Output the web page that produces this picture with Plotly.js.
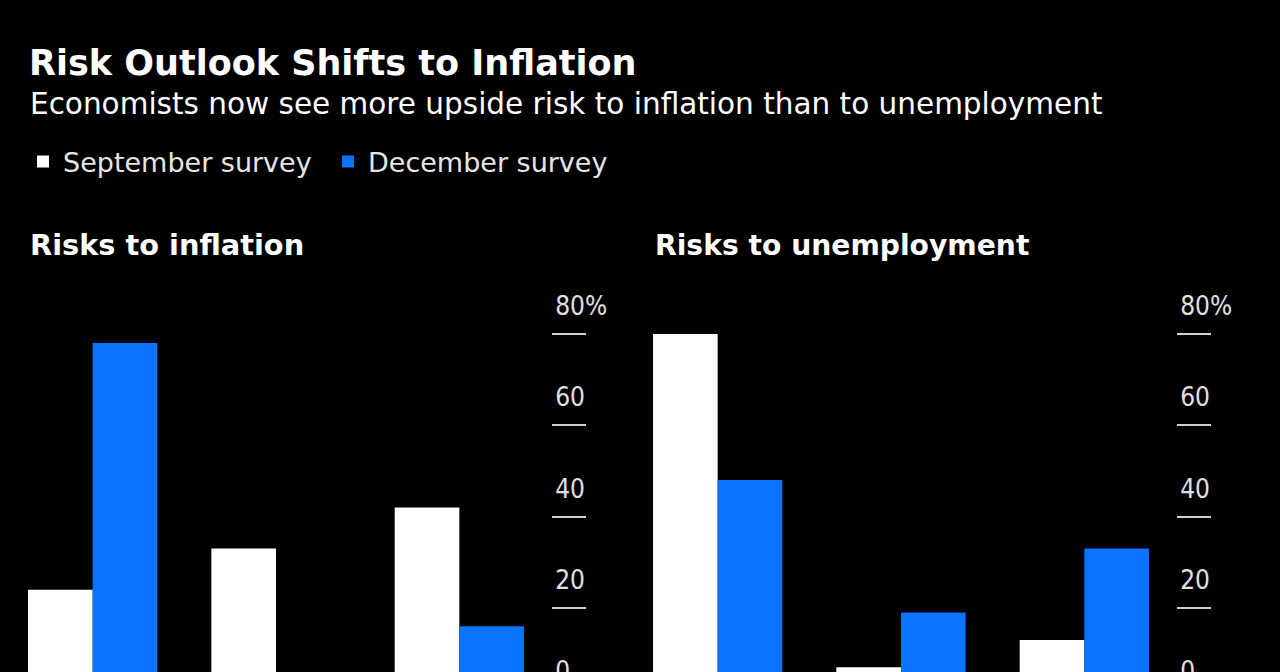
<!DOCTYPE html>
<html>
<head>
<meta charset="utf-8">
<script src="https://cdn.plot.ly/plotly-3.0.1.min.js"></script>
<style>
html,body{margin:0;padding:0;background:#000;overflow:hidden;}
#chart{width:1280px;height:760px;}
</style>
</head>
<body>
<div id="chart"></div>
<script>
// Data
const categories = ["Upside", "Balanced", "Downside"];
const inflationSeptember = [24, 33, 42];
const inflationDecember = [78, 6, 16];
const unemploymentSeptember = [80, 7, 13];
const unemploymentDecember = [48, 19, 33];
const tickValues = [0, 20, 40, 60, 80];
const tickLabels = ["0", "20", "40", "60", "80%"];
const seriesNames = ["September survey", "December survey"];

const WHITE = "#ffffff";
const BLUE = "#0a74ff";
const FONT = "DejaVu Sans, sans-serif";
const FONT_C = "DejaVu Sans Condensed, DejaVu Sans, sans-serif";

const traces = [
  {type:"bar", x:categories, y:inflationSeptember, name:seriesNames[0], marker:{color:WHITE}, xaxis:"x", yaxis:"y", legendgroup:"s"},
  {type:"bar", x:categories, y:inflationDecember, name:seriesNames[1], marker:{color:BLUE}, xaxis:"x", yaxis:"y", legendgroup:"d"},
  {type:"bar", x:categories, y:unemploymentSeptember, name:seriesNames[0], marker:{color:WHITE}, xaxis:"x2", yaxis:"y2", showlegend:false, legendgroup:"s"},
  {type:"bar", x:categories, y:unemploymentDecember, name:seriesNames[1], marker:{color:BLUE}, xaxis:"x2", yaxis:"y2", showlegend:false, legendgroup:"d"}
];

const H = 760;
const yDomain = [(H-699.3)/H, (H-315.7)/H];

function yAxis(anchor){
  return {
    anchor: anchor, side:"right", domain:yDomain, range:[0,84],
    tickvals: tickValues, ticktext: tickLabels,
    showgrid:false, zeroline:false, showline:false,
    ticks:"outside", ticklen:34, tickwidth:2, tickcolor:"#cfcfcf",
    ticklabelstandoff:-36, ticklabelshift:-28,
    tickfont:{family:FONT_C, size:26, color:"#e0e0e0"},
    fixedrange:true
  };
}
function xAxis(domain, anchor){
  return {
    anchor: anchor, domain: domain, showgrid:false, zeroline:false, showline:false,
    ticks:"", showticklabels:false, fixedrange:true
  };
}

const layout = {
  width:1280, height:H,
  margin:{l:0, r:0, t:0, b:0},
  paper_bgcolor:"#000", plot_bgcolor:"#000",
  barmode:"group", bargap:0.295, bargroupgap:0,
  font:{family:FONT, color:"#ffffff"},
  title:{text:"<b>Risk Outlook Shifts to Inflation</b>", x:29/1280, xanchor:"left", y:1-63/H, yanchor:"middle", font:{family:FONT, size:35, color:"#ffffff"}},
  xaxis: xAxis([1/1280, 551/1280], "y"),
  yaxis: yAxis("x"),
  xaxis2: xAxis([626/1280, 1176/1280], "y2"),
  yaxis2: yAxis("x2"),
  showlegend:true,
  legend:{orientation:"h", x:23/1280, xanchor:"left", y:1-162/H, yanchor:"middle", entrywidth:260, entrywidthmode:"pixels",
    font:{family:FONT, size:27, color:"#e6e6e6"}, bgcolor:"rgba(0,0,0,0)", traceorder:"normal", itemclick:false, itemdoubleclick:false},
  annotations:[
    {text:"Economists now see more upside risk to inflation than to unemployment", xref:"paper", yref:"paper", x:28/1280, y:1-104/H, xanchor:"left", yanchor:"middle", showarrow:false, font:{family:FONT, size:29.5, color:"#ffffff"}},
    {text:"<b>Risks to inflation</b>", xref:"paper", yref:"paper", x:28/1280, y:1-245/H, xanchor:"left", yanchor:"middle", showarrow:false, font:{family:FONT, size:28.8, color:"#ffffff"}},
    {text:"<b>Risks to unemployment</b>", xref:"paper", yref:"paper", x:653/1280, y:1-245/H, xanchor:"left", yanchor:"middle", showarrow:false, font:{family:FONT, size:28.2, color:"#ffffff"}}
  ]
};

Plotly.newPlot("chart", traces, layout, {displayModeBar:false, staticPlot:true});
</script>
</body>
</html>
